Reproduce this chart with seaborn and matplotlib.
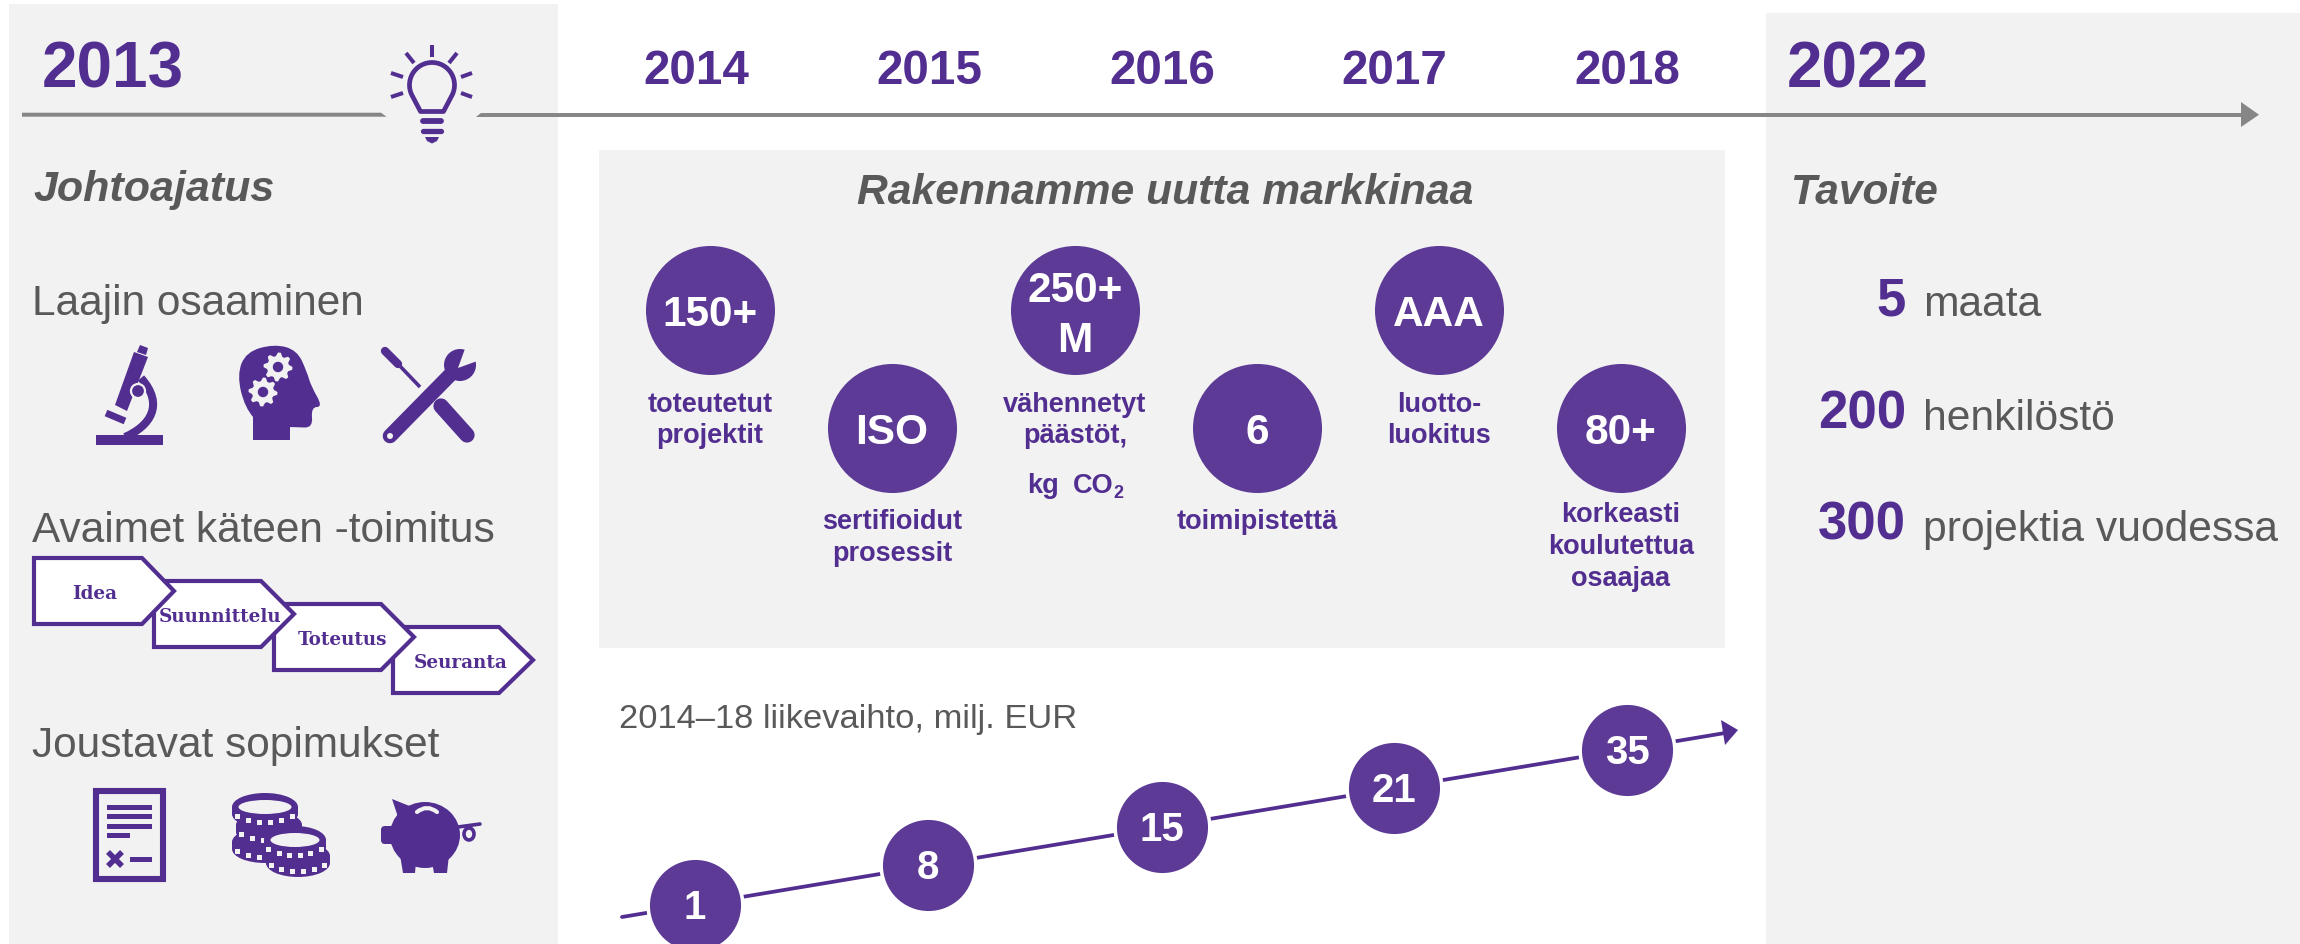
import numpy as np
import pandas as pd
import matplotlib
matplotlib.use("Agg")
import matplotlib.pyplot as plt
import seaborn as sns
from matplotlib.patches import Rectangle, Polygon, Circle, Ellipse, PathPatch, FancyBboxPatch
from matplotlib.path import Path

# ---- chart content ----
timeline_start = "2013"
timeline_years = ["2014", "2015", "2016", "2017", "2018"]
timeline_end = "2022"
revenue_labels = ["1", "8", "15", "21", "35"]
revenue_title = "2014–18 liikevaihto, milj. EUR"
kpi_values = ["150+", "ISO", "250+\nM", "6", "AAA", "80+"]
kpi_captions = [["toteutetut", "projektit"], ["sertifioidut", "prosessit"],
                ["vähennetyt", "päästöt,"], ["toimipistettä"],
                ["luotto-", "luokitus"], ["korkeasti", "koulutettua", "osaajaa"]]
steps = ["Idea", "Suunnittelu", "Toteutus", "Seuranta"]
target_values = ["5", "200", "300"]
target_labels = ["maata", "henkilöstö", "projektia vuodessa"]

# ---- layout (pixels of the 2300x944 canvas) ----
year_x = [696, 929, 1162, 1394, 1627]
rev_x = [695, 928, 1162, 1394, 1627]
rev_y = [905, 865, 827, 788, 750]
kpi_x = [710, 892, 1075, 1257, 1439, 1621]
kpi_y = [310, 428, 310, 428, 310, 428]
cap_y = [[402, 433], [519, 551], [402, 433], [519], [402, 433], [512, 544, 576]]
target_y = [301, 414, 525]

PURPLE = "#522E91"
CIRCLE = "#5C3A96"
GREY = "#595959"
LINE = "#868686"
PANEL = "#F2F2F2"
FONT = "Liberation Sans"

sns.set_theme(style="white")
plt.rcParams["font.family"] = [FONT, "DejaVu Sans"]

fig = plt.figure(figsize=(23, 9.44), dpi=100, facecolor="white")
ax = fig.add_axes([0, 0, 1, 1])
ax.set_axis_off()


def txt(x, y, s, size, color=GREY, weight="normal", style="normal", ha="left", family=None, z=10):
    ax.text(x, y, s, fontsize=size, color=color, fontweight=weight, fontstyle=style,
            ha=ha, va="center_baseline", family=family or FONT, zorder=z, linespacing=1.0)


def smooth(points, fc=PURPLE, z=5):
    pts = np.array(points, float)
    mids = (pts + np.roll(pts, -1, axis=0)) / 2
    verts, codes = [mids[-1]], [Path.MOVETO]
    for p, m in zip(pts, mids):
        verts += [p, m]
        codes += [Path.CURVE3, Path.CURVE3]
    ax.add_patch(PathPatch(Path(verts, codes), fc=fc, ec="none", zorder=z))


def seg(p, q, lw, color=PURPLE, cap="butt", z=5):
    ax.plot([p[0], q[0]], [p[1], q[1]], color=color, lw=lw, solid_capstyle=cap, zorder=z)


def poly(points, fc=PURPLE, ec="none", lw=0, z=5):
    ax.add_patch(Polygon(points, closed=True, fc=fc, ec=ec, lw=lw, zorder=z, joinstyle="miter"))


def rect(x0, y0, x1, y1, fc=PURPLE, z=5):
    ax.add_patch(Rectangle((x0, y0), x1 - x0, y1 - y0, fc=fc, ec="none", zorder=z))


# panels
rect(9, 4, 558, 944, PANEL, 1)
rect(599, 150, 1725, 648, PANEL, 1)
rect(1766, 13, 2300, 944, PANEL, 1)

# timeline
poly([(22, 112.7), (381, 112.7), (386.5, 116.7), (22, 116.7)], LINE, z=3)
poly([(481, 112.7), (2242, 112.7), (2242, 116.7), (476, 116.7)], LINE, z=3)
poly([(2241, 102), (2259, 114.7), (2241, 127)], LINE, z=3)

txt(42, 64, timeline_start, 46, PURPLE, "bold")
for x, y in zip(year_x, timeline_years):
    txt(x, 66, y, 34.3, PURPLE, "bold", ha="center")
txt(1787, 64, timeline_end, 46, PURPLE, "bold")

# light bulb
t = np.radians(np.linspace(208, -28, 60))
bx = np.r_[432 + 22.5 * np.cos(t), 443.5, 420.5]
by = np.r_[85 - 22.5 * np.sin(t), 111.5, 111.5]
ax.add_patch(Polygon(np.c_[bx, by], closed=True, fc="none", ec=PURPLE, lw=3.4, zorder=5, joinstyle="round"))
seg((423, 121), (441, 121), 4.2, cap="round")
seg((423, 130.5), (441, 130.5), 3.8, cap="round")
poly([(425, 137), (439, 137), (437, 141), (432, 143.5), (427, 141)])
seg((432, 45), (432, 57), 2.9)
for p, q in [((406, 53), (414, 63)), ((457, 53), (449, 63)), ((391, 73), (403, 77)),
             ((472, 73), (461, 77)), ((391, 97), (403, 93)), ((472, 97), (461, 93))]:
    seg(p, q, 2.9)

# left column text
txt(33, 186, "Johtoajatus", 31, GREY, "bold", "italic")
txt(32, 300, "Laajin osaaminen", 30.5)
txt(32, 526, "Avaimet käteen -toimitus", 30.5)
txt(32, 741, "Joustavat sopimukset", 30.5)

# microscope
rect(96, 435, 163, 445)
seg((106, 413), (125, 421), 5)
ax.add_patch(PathPatch(Path([(141, 378), (165, 405), (150, 426), (125, 437)],
                            [Path.MOVETO, Path.CURVE4, Path.CURVE4, Path.CURVE4]),
                       fc="none", ec=PURPLE, lw=5.8, zorder=5))
poly([(134, 352), (148, 357), (127, 411), (115, 405)])
poly([(140, 345), (148, 348), (146, 355), (137, 352)])
ax.add_patch(Circle((138, 391), 7, fc=PURPLE, ec=PANEL, lw=1.6, zorder=6))


def gear(cx, cy, r):
    ang = np.linspace(0, 2 * np.pi, 33)[:-1]
    rad = np.where((np.arange(32) % 4) < 2, r, r * 0.76)
    poly(np.c_[cx + rad * np.cos(ang), cy + rad * np.sin(ang)], PANEL, z=6)
    ax.add_patch(Circle((cx, cy), r * 0.36, fc=PURPLE, ec="none", zorder=7))


# head with gears
poly([(253, 405), (290, 405), (290, 440), (253, 440)])
smooth([(274, 344), (297, 350), (307, 372), (311, 386), (323, 407), (311, 407), (313, 428), (296, 427),
        (262, 427), (245, 408), (237, 375), (246, 352)], PURPLE)
gear(278, 367, 14.5)
gear(263, 392, 14.5)

# tools
seg((390, 436), (452, 373), 10.5, cap="round")
ax.add_patch(Circle((460, 365), 16, fc=PURPLE, ec="none", zorder=5))
poly([(458, 368), (466, 346), (480, 360)], PANEL, z=6)
ax.add_patch(Circle((390, 436), 3, fc=PANEL, ec="none", zorder=6))
seg((467, 435), (441, 406), 11, cap="round")
seg((420, 387), (398, 364), 2.6)
seg((398, 364), (385, 351), 6, cap="round")

# process arrows (each tip lies over the next box)
boxes = [(34, 142, 174, 558, 624), (154, 261, 294, 581, 647), (274, 381, 414, 604, 670), (393, 499, 533, 627, 693)]
text_cx = [95, 220, 342, 461]
for i, (b, name) in enumerate(zip(boxes, steps)):
    l, m, r, tp, bt = b
    poly([(l, tp), (m, tp), (r, (tp + bt) / 2), (m, bt), (l, bt)], "white", PURPLE, 3.0, z=5.5 - i * 0.1)
    ax.text(text_cx[i], (tp + bt) / 2 + 1, name, fontsize=13.2, color=PURPLE, fontweight="bold", ha="center",
            va="center_baseline", family="DejaVu Serif", zorder=7)

# document
ax.add_patch(Rectangle((96, 791), 67, 88, fc="none", ec=PURPLE, lw=4.4, zorder=5))
for y0, x1 in [(805, 152), (814, 152), (824, 152), (833, 130), (857, 152)]:
    rect(130 if y0 == 857 else 107, y0, x1, y0 + 5)
seg((108, 852), (122, 866), 4)
seg((122, 852), (108, 866), 4)


def coin(cx, cy, rx, ry, h, inner=True, z=5.0):
    ax.add_patch(Ellipse((cx, cy + h), 2 * rx, 2 * ry, fc=PURPLE, ec="none", zorder=z))
    rect(cx - rx, cy, cx + rx, cy + h, PURPLE, z)
    ax.add_patch(Ellipse((cx, cy), 2 * rx, 2 * ry, fc=PURPLE, ec="none", zorder=z))
    if inner:
        ax.add_patch(Ellipse((cx, cy), 2 * rx - 13, 14, fc=PANEL, ec="none", zorder=z + .01))
    for a in np.linspace(0.08, 0.92, 6):
        u = 2 * a - 1
        ax.add_patch(Rectangle((cx + rx * u - 2.5, cy + h - 8 + ry * np.sqrt(1 - u * u)),
                               5, 5, fc=PANEL, ec="none", zorder=z + .01))


# coins
coin(265, 842, 33, 14, 7, inner=False, z=5.0)
coin(269, 825, 33, 14, 7, inner=False, z=5.1)
coin(265, 807, 33, 14, 7, z=5.2)
coin(298, 856, 32, 14, 7, inner=False, z=5.3)
coin(295, 840, 31, 14, 7, z=5.4)

# piggy bank
ax.add_patch(Ellipse((425, 835), 70, 66, fc=PURPLE, ec="none", zorder=5))
ax.add_patch(FancyBboxPatch((381, 826), 14, 18, boxstyle="round,pad=0,rounding_size=4", fc=PURPLE, ec="none", zorder=5))
poly([(392, 826), (406, 812), (406, 852), (392, 844)])
poly([(392, 799), (412, 807), (399, 820)])
poly([(400, 855), (416, 862), (415, 873), (403, 873)])
poly([(432, 862), (449, 855), (447, 873), (434, 873)])
ax.add_patch(PathPatch(Path([(417, 812), (427, 804), (437, 812)], [Path.MOVETO, Path.CURVE3, Path.CURVE3]),
                       fc="none", ec=PANEL, lw=3, capstyle="round", zorder=6))
seg((458, 827), (480, 824), 2.6, cap="round")
ax.add_patch(Ellipse((469, 834), 10, 12, fc="none", ec=PURPLE, lw=2.6, zorder=5))

# KPI bubbles
kpi_df = pd.DataFrame({"x": kpi_x, "y": kpi_y})
sns.scatterplot(data=kpi_df, x="x", y="y", s=8630, color=CIRCLE, linewidth=0, legend=False, ax=ax, zorder=4)
txt(1165, 188, "Rakennamme uutta markkinaa", 30.7, GREY, "bold", "italic", ha="center")
for x, y, v in zip(kpi_x, kpi_y, kpi_values):
    parts = v.split("\n")
    if len(parts) == 1:
        txt(x, y + 1, v, 30.5, "white", "bold", ha="center")
    else:
        txt(x, 286, parts[0], 30.5, "white", "bold", ha="center")
        txt(x, 337, parts[1], 30.5, "white", "bold", ha="center")
for x, ys, lines in zip(kpi_x, cap_y, kpi_captions):
    for y, s in zip(ys, lines):
        txt(x, y, s, 19.5, PURPLE, "bold", ha="center")
txt(1027, 483, "kg", 19.5, PURPLE, "bold")
txt(1073, 483, "CO", 19.5, PURPLE, "bold")
txt(1113, 492, "2", 13, PURPLE, "bold")

# revenue trend
txt(619, 716, revenue_title, 24.8, GREY)
trend = pd.DataFrame({"x": [622, 1725], "y": [917, 733]})
sns.lineplot(data=trend, x="x", y="y", color=PURPLE, lw=2.7, legend=False, ax=ax, zorder=3, errorbar=None)
poly([(1721, 720), (1738, 730), (1725, 745)], PURPLE, z=3)
rev_df = pd.DataFrame({"x": rev_x, "y": rev_y})
# white halo breaks around the circles
sns.scatterplot(data=rev_df, x="x", y="y", s=5000, color="white", linewidth=0, legend=False, ax=ax, zorder=4)
sns.scatterplot(data=rev_df, x="x", y="y", s=4300, color=CIRCLE, linewidth=0, legend=False, ax=ax, zorder=5)
for x, y, v in zip(rev_x, rev_y, revenue_labels):
    txt(x, y - 1, v, 29, "white", "bold", ha="center")

# targets
txt(1791, 188, "Tavoite", 30.5, GREY, "bold", "italic")
for y, v, lab in zip(target_y, target_values, target_labels):
    txt(1906, y - 5, v, 38, PURPLE, "bold", ha="right")
    txt(1923, y, lab, 30.7)

ax.set_xlabel("")
ax.set_ylabel("")
ax.set_xlim(0, 2300)
ax.set_ylim(944, 0)
fig.savefig("out.png", dpi=100, facecolor="white")
